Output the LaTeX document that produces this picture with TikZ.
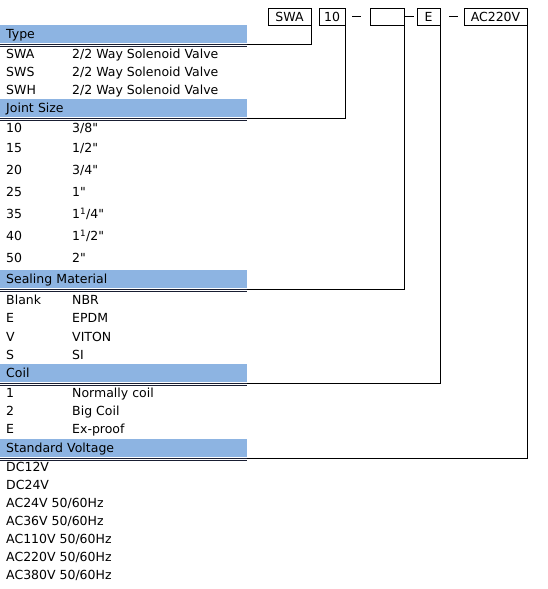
\documentclass[tikz,border=0pt]{standalone}
\usepackage{fontspec}
\newfontfamily\dv{DejaVu Sans}
\definecolor{barblue}{RGB}{141,180,226}
\definecolor{ulcol}{RGB}{25,30,50}
\begin{document}
\begin{tikzpicture}[x=1pt,y=-1pt,
  every node/.style={font=\dv\fontsize{12.5}{14}\selectfont},
  txt/.style={anchor=west,inner sep=0pt,text height=9pt,text depth=0pt},
  bar/.style={fill=barblue,draw=none,anchor=north west,inner xsep=6pt,inner ysep=0pt,
    text width=235pt,align=left,minimum height=18pt,text height=9pt,text depth=0pt},
  hbox/.style={draw,line width=0.9pt,minimum height=17pt,inner sep=0pt,text height=9pt,text depth=0pt},
  conn/.style={line width=1pt},
  ulA/.style={draw=ulcol,line width=1.2pt},
  ulB/.style={draw=ulcol,line width=0.7pt}]
\useasboundingbox (0,0) rectangle (547,589);

% header code boxes
\node[hbox,minimum width=43pt] (hSWA) at (289.5,16.5) {SWA};
\node[hbox,minimum width=26pt] (h10) at (332,16.5) {10};
\node[hbox,minimum width=34pt] (hSeal) at (387,16.5) {};
\node[hbox,minimum width=23pt] (hE) at (428.5,16.5) {E};
\node[hbox,minimum width=63pt] (hV) at (495.5,16.5) {AC220V};
\coordinate (d1a) at (352,16.5); \coordinate (d1b) at (361,16.5);
\coordinate (d2a) at (405,16.5); \coordinate (d2b) at (414,16.5);
\coordinate (d3a) at (449,16.5); \coordinate (d3b) at (458,16.5);
\draw[line width=0.9pt] (d1a) -- (d1b);
\draw[line width=0.9pt] (d2a) -- (d2b);
\draw[line width=0.9pt] (d3a) -- (d3b);

% section bars
\node[bar] (bType) at (0,25) {Type};
\node[bar] (bJoint) at (0,99) {Joint Size};
\node[bar] (bSeal) at (0,270) {Sealing Material};
\node[bar] (bCoil) at (0,364) {Coil};
\node[bar] (bVolt) at (0,439) {Standard Voltage};

\foreach \b in {bType,bJoint,bSeal,bCoil,bVolt}{
  \draw[ulA] ([yshift=-1.3pt]\b.south west) -- ([yshift=-1.3pt]\b.south east);
  \draw[ulB] ([yshift=-3.4pt]\b.south west) -- ([yshift=-3.4pt]\b.south east);
  \coordinate (c\b) at ([yshift=-1.3pt]\b.south east);
}

% connectors
\draw[conn] (hSWA.south east) |- (cbType);
\draw[conn] (h10.south east) |- (cbJoint);
\draw[conn] (hSeal.south east) |- (cbSeal);
\draw[conn] (hE.south east) |- (cbCoil);
\draw[conn] (hV.south east) |- (cbVolt);

% Type rows
\node[txt] (ta1) at (6,54) {SWA};  \node[txt] (tb1) at (72,54) {2/2 Way Solenoid Valve};
\node[txt] (ta2) at (6,72) {SWS};  \node[txt] (tb2) at (72,72) {2/2 Way Solenoid Valve};
\node[txt] (ta3) at (6,90) {SWH};  \node[txt] (tb3) at (72,90) {2/2 Way Solenoid Valve};

% Joint size rows
\node[txt] (ja1) at (6,128) {10}; \node[txt] (jb1) at (72,128) {3/8"};
\node[txt] (ja2) at (6,148) {15}; \node[txt] (jb2) at (72,148) {1/2"};
\node[txt] (ja3) at (6,170) {20}; \node[txt] (jb3) at (72,170) {3/4"};
\node[txt] (ja4) at (6,192) {25}; \node[txt] (jb4) at (72,192) {1"};
\node[txt] (ja5) at (6,214) {35}; \node[txt] (jb5) at (72,214) {1\textsuperscript{1}/4"};
\node[txt] (ja6) at (6,236) {40}; \node[txt] (jb6) at (72,236) {1\textsuperscript{1}/2"};
\node[txt] (ja7) at (6,258) {50}; \node[txt] (jb7) at (72,258) {2"};

% Sealing rows
\node[txt] (sa1) at (6,300) {Blank}; \node[txt] (sb1) at (72,300) {NBR};
\node[txt] (sa2) at (6,318) {E};     \node[txt] (sb2) at (72,318) {EPDM};
\node[txt] (sa3) at (6,337) {V};     \node[txt] (sb3) at (72,337) {VITON};
\node[txt] (sa4) at (6,355) {S};     \node[txt] (sb4) at (72,355) {SI};

% Coil rows
\node[txt] (ca1) at (6,393) {1}; \node[txt] (cb1) at (72,393) {Normally coil};
\node[txt] (ca2) at (6,411) {2}; \node[txt] (cb2) at (72,411) {Big Coil};
\node[txt] (ca3) at (6,429) {E}; \node[txt] (cb3) at (72,429) {Ex-proof};

% Voltage rows
\node[txt] (v1) at (6,467) {DC12V};
\node[txt] (v2) at (6,485) {DC24V};
\node[txt] (v3) at (6,503) {AC24V 50/60Hz};
\node[txt] (v4) at (6,521) {AC36V 50/60Hz};
\node[txt] (v5) at (6,539) {AC110V 50/60Hz};
\node[txt] (v6) at (6,557) {AC220V 50/60Hz};
\node[txt] (v7) at (6,575) {AC380V 50/60Hz};
\end{tikzpicture}
\end{document}
